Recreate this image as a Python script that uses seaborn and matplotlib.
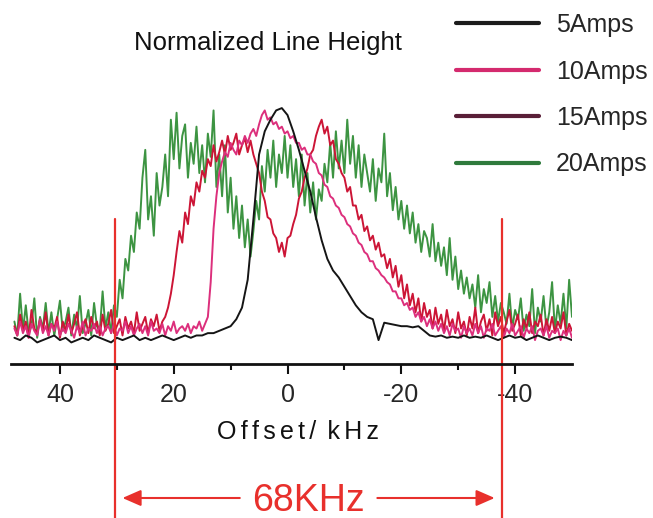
import numpy as np
import pandas as pd
import seaborn as sns
import matplotlib.pyplot as plt
import matplotlib.transforms as mtransforms
from matplotlib.lines import Line2D

# offset axes (kHz): the smooth 5 A trace at 1 kHz steps, the noisy ones at 0.5 kHz
offset_coarse = np.arange(48, -51, -1)
offset_fine = np.arange(48, -50.5, -0.5)

amps_5 = [0.01, 0.00, 0.02, 0.01, -0.01, 0.00, 0.01, 0.02, 0.00, 0.01,
          -0.01, 0.00, 0.01, 0.00, 0.02, 0.01, 0.00, -0.01, 0.01, 0.00,
          0.01, 0.02, 0.00, 0.01, 0.00, 0.01, 0.02, 0.01, 0.00, 0.01,
          0.02, 0.01, 0.02, 0.02,
          0.03, 0.03, 0.04, 0.05, 0.06, 0.09, 0.14, 0.26, 0.52, 0.80,
          0.90, 0.95, 0.99, 1.00, 0.97, 0.90, 0.82, 0.73, 0.64, 0.53,
          0.43, 0.35, 0.30, 0.27, 0.23, 0.19, 0.15, 0.12, 0.10, 0.09,
          0.00, 0.075, 0.07, 0.065, 0.06, 0.06, 0.055, 0.06, 0.04, 0.02,
          0.015, 0.02, 0.01, 0.015, 0.01, 0.02, 0.01, 0.015, 0.01, 0.02,
          0.01, 0.00, 0.01, 0.02, 0.01, 0.015, 0.00, 0.01, 0.02, 0.01,
          0.00, 0.01, 0.015, 0.01, 0.00]

amps_10 = [0.05, 0.02, 0.08, 0.03, 0.06, 0.01, 0.07, 0.04, 0.02, 0.09,
           0.03, 0.06, 0.02, 0.07, 0.04, 0.08, 0.02, 0.05, 0.03, 0.07,
           0.04, 0.01, 0.06, 0.03, 0.08, 0.02, 0.05, 0.04, 0.07, 0.03,
           0.06, 0.02, 0.05, 0.06, 0.03, 0.07, 0.02, 0.05, 0.04, 0.08,
           0.03, 0.06, 0.02, 0.05, 0.07, 0.03, 0.06, 0.02, 0.08, 0.04,
           0.05, 0.03, 0.07, 0.02, 0.06, 0.04, 0.08, 0.03, 0.05, 0.06,
           0.04, 0.07, 0.03, 0.06, 0.05, 0.08, 0.04, 0.07, 0.10, 0.25,
           0.48, 0.62, 0.72, 0.77, 0.81, 0.79, 0.85, 0.82, 0.80, 0.86,
           0.84, 0.88, 0.85, 0.89, 0.91, 0.88, 0.93, 0.97, 0.99, 0.95,
           0.96, 0.93, 0.94, 0.91, 0.92, 0.89, 0.90, 0.87, 0.88, 0.85,
           0.85, 0.82, 0.83, 0.80, 0.80, 0.77, 0.76, 0.72, 0.71, 0.67,
           0.66, 0.62, 0.61, 0.58, 0.57, 0.54, 0.53, 0.50, 0.49, 0.46,
           0.45, 0.42, 0.41, 0.38, 0.37, 0.34, 0.34, 0.31, 0.30, 0.28,
           0.27, 0.25, 0.24, 0.21, 0.21, 0.18, 0.18, 0.15, 0.16, 0.13,
           0.14, 0.10, 0.12, 0.08, 0.10, 0.06, 0.09, 0.05, 0.08, 0.04,
           0.07, 0.03, 0.06, 0.02, 0.07, 0.04, 0.05, 0.01, 0.06, 0.03,
           0.05, 0.02, 0.07, 0.03, 0.06, 0.01, 0.05, 0.04, 0.07, 0.02,
           0.04, 0.06, 0.01, 0.05, 0.03, 0.07, 0.02, 0.04, 0.06, 0.01,
           0.05, 0.03, 0.06, 0.00, 0.04, 0.05, 0.02, 0.06, 0.01, 0.04,
           0.03, 0.05, 0.00, 0.04, 0.02, 0.05, 0.01]

amps_15 = [0.06, 0.02, 0.11, 0.04, 0.08, 0.01, 0.13, 0.05, 0.03, 0.09,
           0.04, 0.12, 0.02, 0.07, 0.05, 0.10, 0.01, 0.08, 0.04, 0.11,
           0.03, 0.07, 0.12, 0.02, 0.06, 0.09, 0.03, 0.10, 0.05, 0.08,
           0.02, 0.11, 0.04, 0.07, 0.13, 0.03, 0.06, 0.09, 0.02, 0.10,
           0.05, 0.08, 0.03, 0.12, 0.04, 0.07, 0.10, 0.03, 0.09, 0.06,
           0.11, 0.04, 0.08, 0.10, 0.14, 0.20, 0.28, 0.38, 0.47, 0.42,
           0.55, 0.50, 0.62, 0.58, 0.68, 0.64, 0.73, 0.70, 0.78, 0.75,
           0.84, 0.77, 0.81, 0.86, 0.80, 0.88, 0.82, 0.85, 0.89, 0.80,
           0.84, 0.87, 0.81, 0.86, 0.80, 0.76, 0.72, 0.64, 0.60, 0.53,
           0.52, 0.46, 0.44, 0.38, 0.42, 0.36, 0.44, 0.45, 0.50, 0.54,
           0.61, 0.64, 0.70, 0.74, 0.80, 0.82, 0.88, 0.92, 0.95, 0.89,
           0.92, 0.84, 0.86, 0.78, 0.76, 0.72, 0.70, 0.64, 0.66, 0.58,
           0.58, 0.52, 0.54, 0.47, 0.49, 0.43, 0.45, 0.39, 0.42, 0.36,
           0.37, 0.31, 0.35, 0.27, 0.32, 0.23, 0.28, 0.18, 0.24, 0.15,
           0.20, 0.12, 0.18, 0.08, 0.16, 0.10, 0.13, 0.05, 0.14, 0.07,
           0.11, 0.04, 0.13, 0.06, 0.09, 0.03, 0.12, 0.05, 0.08, 0.02,
           0.10, 0.05, 0.14, 0.03, 0.08, 0.11, 0.04, 0.09, 0.02, 0.12,
           0.06, 0.10, 0.03, 0.08, 0.13, 0.04, 0.07, 0.11, 0.02, 0.09,
           0.05, 0.12, 0.03, 0.08, 0.06, 0.11, 0.02, 0.09, 0.04, 0.10,
           0.03, 0.08, 0.05, 0.12, 0.02, 0.07, 0.04]

amps_20 = [0.08, 0.02, 0.20, 0.04, 0.15, 0.03, 0.06, 0.18, 0.01, 0.10,
           0.05, 0.16, 0.03, 0.12, 0.02, 0.09, 0.17, 0.04, 0.08, 0.14,
           0.02, 0.11, 0.05, 0.19, 0.03, 0.07, 0.13, 0.02, 0.16, 0.06,
           0.04, 0.21, 0.05, 0.12, 0.03, 0.15, 0.10, 0.26, 0.18, 0.35,
           0.30, 0.45, 0.38, 0.55, 0.48, 0.70, 0.82, 0.52, 0.62, 0.45,
           0.72, 0.58, 0.66, 0.80, 0.62, 0.95, 0.78, 0.98, 0.74, 0.88,
           0.93, 0.70, 0.85, 0.76, 0.92, 0.72, 0.84, 0.68, 0.89, 0.79,
           0.99, 0.66, 0.80, 0.62, 0.84, 0.55, 0.70, 0.48, 0.62, 0.44,
           0.58, 0.40, 0.52, 0.36, 0.47, 0.60, 0.52, 0.75, 0.64, 0.82,
           0.70, 0.86, 0.66, 0.80, 0.72, 0.88, 0.70, 0.84, 0.66, 0.78,
           0.62, 0.80, 0.58, 0.72, 0.55, 0.68, 0.52, 0.65, 0.60, 0.76,
           0.68, 0.85, 0.70, 0.90, 0.74, 0.86, 0.72, 0.95, 0.76, 0.88,
           0.70, 0.84, 0.66, 0.80, 0.72, 0.64, 0.78, 0.60, 0.74, 0.68,
           0.89, 0.62, 0.72, 0.56, 0.66, 0.52, 0.60, 0.48, 0.58, 0.46,
           0.55, 0.42, 0.50, 0.38, 0.47, 0.44, 0.36, 0.50, 0.34, 0.42,
           0.32, 0.40, 0.28, 0.44, 0.26, 0.36, 0.22, 0.30, 0.20, 0.27,
           0.18, 0.24, 0.14, 0.28, 0.12, 0.22, 0.16, 0.25, 0.10, 0.19,
           0.08, 0.16, 0.12, 0.07, 0.20, 0.05, 0.13, 0.09, 0.18, 0.04,
           0.11, 0.06, 0.22, 0.03, 0.14, 0.08, 0.19, 0.05, 0.12, 0.25,
           0.04, 0.15, 0.07, 0.20, 0.05, 0.26, 0.10]

labels = ['5Amps', '10Amps', '15Amps', '20Amps']
line_colors = {'5Amps': '#151515', '10Amps': '#dc2f7c',
               '15Amps': '#cc1536', '20Amps': '#3d9442'}
legend_colors = {'5Amps': '#1c1c1c', '10Amps': '#d42a6e',
                 '15Amps': '#5a1f38', '20Amps': '#2f7a3c'}

# linewidth of the central transition, marked in kHz
width_edges = [30.3, -37.7]
width_label = '68KHz'


if __name__ == '__main__':
    sns.set_theme(style="white")
    plt.rcParams['font.family'] = ['Liberation Sans', 'DejaVu Sans']
    plt.rcParams['axes.unicode_minus'] = False

    frames = []
    series = [(offset_coarse, amps_5), (offset_fine, amps_10),
              (offset_fine, amps_15), (offset_fine, amps_20)]
    for name, (xs, vals) in zip(labels, series):
        frames.append(pd.DataFrame({'offset': xs, 'height': vals, 'current': name}))
    df = pd.concat(frames, ignore_index=True)

    fig = plt.figure(figsize=(6.53, 5.18), dpi=100)
    ax = fig.add_axes([11 / 653, 154 / 518, 561 / 653, 274 / 518])

    # draw order: green at the back, black on top
    sns.lineplot(data=df, x='offset', y='height', hue='current',
                 hue_order=['20Amps', '15Amps', '10Amps', '5Amps'],
                 palette=line_colors, estimator=None, lw=1.4,
                 legend=False, ax=ax)

    ax.set_xlim(48.6, -50)
    ax.set_ylim(-0.103, 1.078)
    ax.set_yticks([])
    ax.set_ylabel('')
    ax.set_xlabel('')
    for side in ['left', 'top', 'right']:
        ax.spines[side].set_visible(False)
    ax.spines['bottom'].set_linewidth(2)
    ax.spines['bottom'].set_color('#111111')

    ax.set_xticks([40, 20, 0, -20, -40])
    ax.set_xticks([30, 10, -10, -30], minor=True)
    ax.tick_params(axis='x', which='major', bottom=True, direction='out',
                   length=7, width=1.5, color='#111111', labelsize=18, pad=7)
    ax.tick_params(axis='x', which='minor', bottom=True, direction='out',
                   length=4.5, width=1.5, color='#111111')

    hs = '\u200a\u200a'
    fig.text(298 / 653, 1 - 432 / 518, hs.join('Offset/') + hs + ' ' + hs.join('kHz'),
             ha='center', va='center', fontsize=18, color='#111111')
    fig.text(268 / 653, 1 - 43 / 518, 'Normalized Line Height',
             ha='center', va='center', fontsize=18.5, color='#111111')

    handles = [Line2D([], [], color=legend_colors[k], lw=3) for k in labels]
    fig.legend(handles, labels, loc='upper left',
               bbox_to_anchor=(456 / 653, 1 - 13 / 518), frameon=False,
               fontsize=18, handlelength=3.3, handletextpad=0.7,
               labelspacing=0.9, borderpad=0, borderaxespad=0)

    # red width marker below the axis
    red = '#e8302c'
    trans = mtransforms.blended_transform_factory(ax.transData, fig.transFigure)
    for xv in width_edges:
        ax.plot([xv, xv], [1 - 219 / 518, 0], transform=trans,
                color=red, lw=1.6, clip_on=False)
    y_arrow = 1 - 498 / 518
    mid = (width_edges[0] + width_edges[1]) / 2
    for tail, tip in [(mid + 11.6, width_edges[0] - 0.8),
                      (mid - 11.6, width_edges[1] + 0.8)]:
        ax.annotate('', xy=(tip, y_arrow), xytext=(tail, y_arrow),
                    xycoords=trans, textcoords=trans,
                    arrowprops=dict(arrowstyle='-|>,head_length=0.8,head_width=0.35',
                                    color=red, lw=1.5, mutation_scale=14))
    ax.text(mid, 1 - 511 / 518, width_label, transform=trans,
            ha='center', va='baseline', fontsize=27, color=red)

    fig.savefig('out.png', dpi=100)
